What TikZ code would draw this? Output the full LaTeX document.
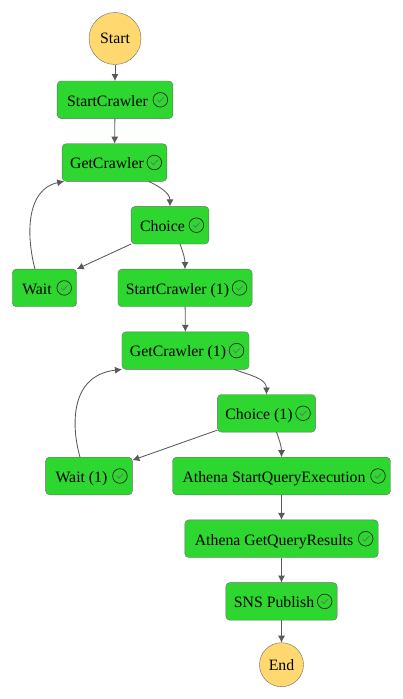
\documentclass[tikz,border=0pt]{standalone}
\usepackage{fontspec}
\setmainfont{Liberation Serif}
\usepackage{xcolor}
\usetikzlibrary{arrows.meta,positioning}
\definecolor{sfngreen}{HTML}{2DD72F}
\definecolor{sfnyellow}{HTML}{FFD86F}
\definecolor{sfngray}{HTML}{6B6B6B}
\definecolor{sfnarrow}{HTML}{595959}
\definecolor{sfnink}{HTML}{1F2A1F}

\begin{document}
\begin{tikzpicture}[
  x=1pt, y=1pt,
  node distance=25.1pt,
  every node/.style={font=\fontsize{15.8}{18}\selectfont, outer sep=0pt},
  statebox/.style={draw=sfngray, rounded corners=4pt, fill=sfngreen, inner xsep=10pt, inner ysep=0pt, minimum height=37.6pt, text height=12.6pt, text depth=0pt, execute at end node={\hspace*{15pt}}},
  tightbox/.style={statebox, inner xsep=8pt},
  terminal/.style={circle, draw=sfngray, fill=sfnyellow, inner sep=0pt},
  arr/.style={-{Latex[length=7pt,width=7pt]}, line width=0.85pt, draw=sfnarrow},
  doneicon/.pic={
    \draw[sfnink, line width=0.7pt] (0,0) circle (7.3);
    \draw[sfngray, line width=0.7pt] (-3.2,0.2) -- (-1,-2.2) -- (3.4,2.4);
  }
]
\useasboundingbox (0,0) rectangle (403,-699);
\node[terminal, minimum size=52pt] (start) at (115,-38.5) {Start};
\node[statebox, below=16.5pt of start] (startcrawler) {StartCrawler};
\node[tightbox, below=of startcrawler, xshift=-0.5pt] (getcrawler) {GetCrawler};
\node[statebox, inner xsep=9pt, below=of getcrawler, xshift=55.5pt] (choice) {Choice};
\node[statebox, below=of choice, xshift=-125.5pt] (wait) {Wait};
\node[tightbox, below=of choice, xshift=15pt] (startcrawlerb) {StartCrawler (1)};
\node[tightbox, below=of startcrawlerb, xshift=0.5pt] (getcrawlerb) {GetCrawler (1)};
\node[tightbox, below=of getcrawlerb, xshift=81pt] (choiceb) {Choice (1)};
\node[statebox, below=of choiceb, xshift=-177.5pt] (waitb) {Wait (1)};
\node[statebox, below=of choiceb, xshift=15pt] (athenastart) {Athena StartQueryExecution};
\node[statebox, below=of athenastart] (athenaget) {Athena GetQueryResults};
\node[tightbox, below=of athenaget] (publish) {SNS Publish};
\node[terminal, minimum size=44pt, below=22.5pt of publish] (end) {End};
\foreach \n in {startcrawler,getcrawler,choice,wait,startcrawlerb,getcrawlerb,choiceb,waitb,athenastart,athenaget,publish}
  \pic at ([xshift=-12.5pt]\n.east) {doneicon};
\draw[arr] (start) -- (startcrawler);
\draw[arr] (startcrawler) -- (getcrawler);
\draw[arr] ([xshift=34pt]getcrawler.south) to[out=-25,in=90] (choice.north);
\draw[arr] (choice.south west) -- (wait.north east);
\draw[arr] ([xshift=10pt]choice.south) to[out=-70,in=90] (startcrawlerb.north);
\draw[arr] ([xshift=-9.5pt]wait.north) .. controls +(-9,34) and +(-38,-8) .. ([xshift=2pt]getcrawler.south west);
\draw[arr] (startcrawlerb) -- (getcrawlerb);
\draw[arr] ([xshift=48.5pt]getcrawlerb.south) to[out=-20,in=90] (choiceb.north);
\draw[arr] ([yshift=2pt]choiceb.south west) -- ([yshift=-3pt]waitb.north east);
\draw[arr] ([xshift=10pt]choiceb.south) to[out=-70,in=90] (athenastart.north);
\draw[arr] ([xshift=-9pt]waitb.north) .. controls +(-9,32) and +(-52,-6) .. (getcrawlerb.south west);
\draw[arr] (athenastart) -- (athenaget);
\draw[arr] (athenaget) -- (publish);
\draw[arr] (publish) -- (end);
\end{tikzpicture}
\end{document}
